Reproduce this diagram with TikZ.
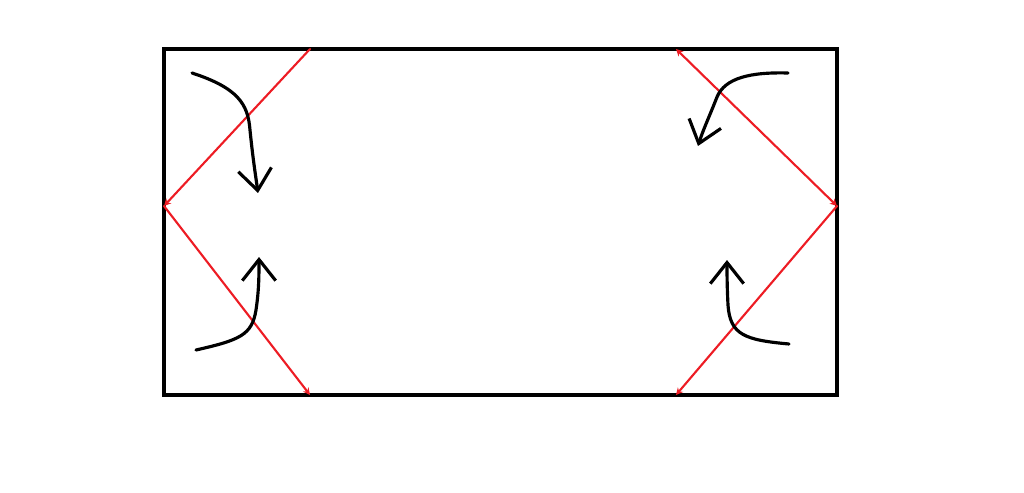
\documentclass[tikz,border=0pt]{standalone}
\usetikzlibrary{arrows.meta}

\definecolor{paintred}{RGB}{237,28,36}

\begin{document}
\begin{tikzpicture}[
        x=0.02cm, y=-0.02cm,
        frame/.style={draw=black, line width=1.8pt},
        mirror/.style={draw=paintred, line width=1.2pt, line cap=round},
        mirrortip/.style={mirror, -{Stealth[length=4pt, width=4pt]}},
        curvearrow/.style={draw=black, line width=1.8pt, line cap=round,
            -{Straight Barb[length=12pt, width=19pt, line width=1.8pt]}}
    ]
    \useasboundingbox (0,0) rectangle (1024,493);

    % --- Frame ---
    \coordinate (nw) at (164,49);
    \coordinate (se) at (837,395);
    \draw[frame] (nw) rectangle (se);

    % --- Red lines ---
    \coordinate (ltop) at (310,49);
    \coordinate (lapex) at (164,206);
    \coordinate (lbot) at (310,395);
    \coordinate (rtop) at (676,49);
    \coordinate (rapex) at (837,206);
    \coordinate (rbot) at (676,395);

    \draw[mirrortip] (ltop) -- (lapex);
    \draw[mirrortip] (lapex) -- (lbot);
    \draw[mirrortip, {Stealth[length=4pt, width=4pt]}-{Stealth[length=4pt, width=4pt]}] (rtop) -- (rapex);
    \draw[mirrortip] (rapex) -- (rbot);

    % --- Curved arrows ---
    \coordinate (tlstart) at (192,73);
    \coordinate (tltip) at (258,193);
    \coordinate (blstart) at (196,350);
    \coordinate (bltip) at (259,257);
    \coordinate (trstart) at (788,73);
    \coordinate (trtip) at (698,146);
    \coordinate (brstart) at (789,344);
    \coordinate (brtip) at (727,260);

    \draw[curvearrow] (tlstart) .. controls (238,88) and (248,104) .. (250,130)
        .. controls (253,160) and (256,178) .. (tltip);
    \draw[curvearrow] (blstart) .. controls (240,340) and (252,335) .. (256,310)
        .. controls (259,290) and (259,275) .. (bltip);
    \draw[curvearrow] (trstart) .. controls (750,72) and (725,78) .. (717,97)
        .. controls (710,115) and (703,130) .. (trtip);
    \draw[curvearrow] (brstart) .. controls (745,340) and (730,335) .. (728,305)
        .. controls (727,285) and (727,272) .. (brtip);

\end{tikzpicture}
\end{document}
